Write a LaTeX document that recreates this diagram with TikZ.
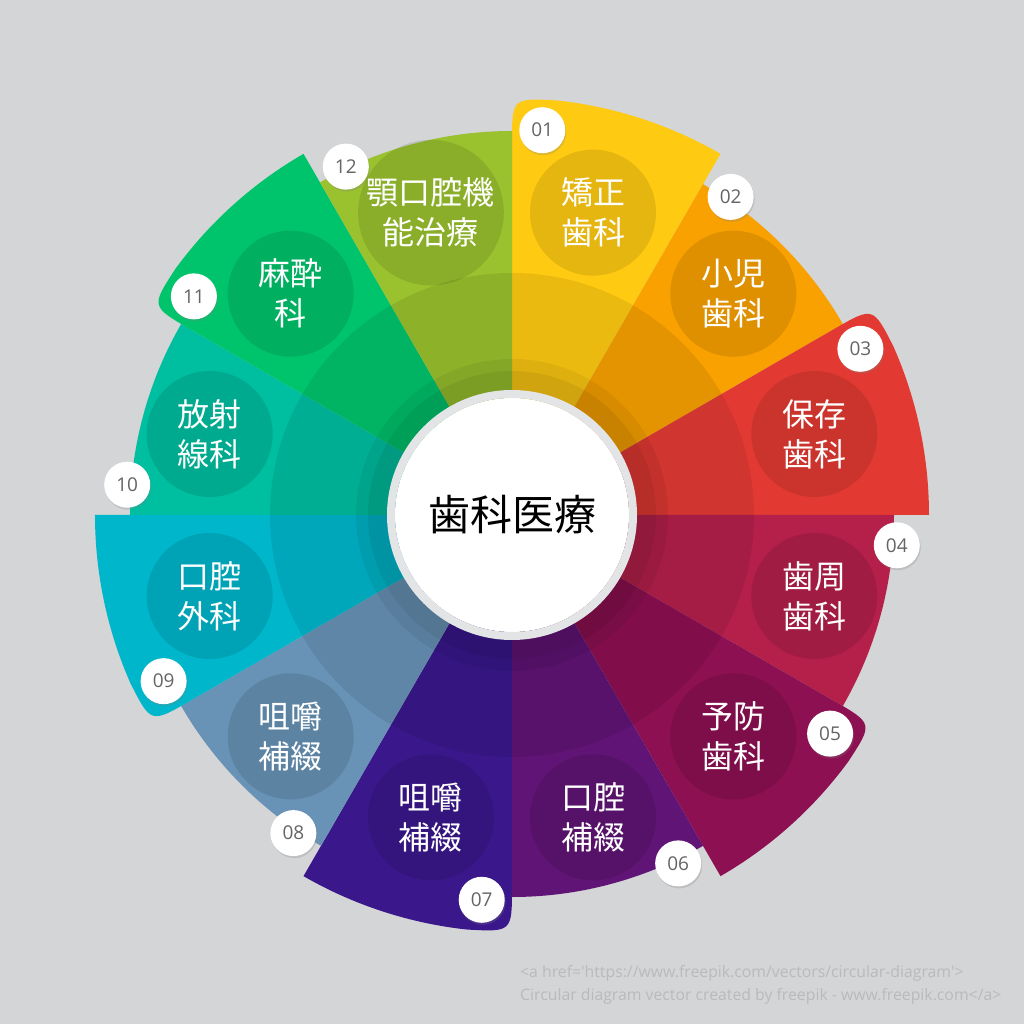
\documentclass[tikz,border=0pt]{standalone}
\usepackage{fontspec}
\usetikzlibrary{positioning}
\usetikzlibrary{shadows}

\newfontfamily\jpfont{Noto Sans CJK JP}
\newfontfamily\numfont{Open Sans}
\newfontfamily\credfont{Open Sans}[Ligatures=TeXOff]

\definecolor{bg}{RGB}{211,213,214}
\definecolor{numgray}{RGB}{100,100,100}
\definecolor{ringgray}{RGB}{226,228,229}
\definecolor{credgray}{RGB}{184,186,187}
\definecolor{c01}{RGB}{255,202,18}
\definecolor{c02}{RGB}{248,161,0}
\definecolor{c03}{RGB}{226,58,51}
\definecolor{c04}{RGB}{180,32,74}
\definecolor{c05}{RGB}{141,16,82}
\definecolor{c06}{RGB}{96,20,117}
\definecolor{c07}{RGB}{58,24,140}
\definecolor{c08}{RGB}{104,146,182}
\definecolor{c09}{RGB}{0,182,202}
\definecolor{c10}{RGB}{0,190,160}
\definecolor{c11}{RGB}{0,196,108}
\definecolor{c12}{RGB}{154,194,46}

\begin{document}
\begin{tikzpicture}[
    x = 1pt, y = 1pt,
    topic/.style = {shape = circle, fill = black, fill opacity = 0.1, text opacity = 1, text = white, minimum size = 126pt, inner sep = 0pt, align = center, font = \jpfont\fontsize{32}{40}\selectfont},
    num/.style = {shape = circle, fill = white, minimum size = 46pt, inner sep = 0pt, text = numgray, font = \numfont\fontsize{19}{19}\selectfont, drop shadow = {opacity = 0.25, shadow xshift = 1pt, shadow yshift = -2pt}},
    hub/.style = {shape = circle, fill = white, minimum size = 234pt, inner sep = 0pt, font = \jpfont\fontsize{42}{42}\selectfont},
    credit/.style = {anchor = north west, align = left, inner sep = 0pt, text = credgray, font = \credfont\fontsize{15.8}{23}\selectfont},
    ]
    \fill[bg] (-512, -509) rectangle (512, 515);
    \useasboundingbox (-512, -509) rectangle (512, 515);

    % sectors, long ones with a rounded leading corner
    \fill[c01] (0, 0) -- (90:372) .. controls (90:417) .. (83.8:417) arc[start angle = 83.8, end angle = 60, radius = 417] -- cycle;
    \fill[c02] (0, 0) -- (60:382) arc[start angle = 60, end angle = 30, radius = 382] -- cycle;
    \fill[c03] (0, 0) -- (30:372) .. controls (30:417) .. (23.8:417) arc[start angle = 23.8, end angle = 0, radius = 417] -- cycle;
    \fill[c04] (0, 0) -- (0:382) arc[start angle = 0, end angle = -30, radius = 382] -- cycle;
    \fill[c05] (0, 0) -- (-30:372) .. controls (-30:417) .. (-36.2:417) arc[start angle = -36.2, end angle = -60, radius = 417] -- cycle;
    \fill[c06] (0, 0) -- (-60:382) arc[start angle = -60, end angle = -90, radius = 382] -- cycle;
    \fill[c07] (0, 0) -- (-90:372) .. controls (-90:417) .. (-96.2:417) arc[start angle = -96.2, end angle = -120, radius = 417] -- cycle;
    \fill[c08] (0, 0) -- (-120:382) arc[start angle = -120, end angle = -150, radius = 382] -- cycle;
    \fill[c09] (0, 0) -- (-150:372) .. controls (-150:417) .. (-156.2:417) arc[start angle = -156.2, end angle = -180, radius = 417] -- cycle;
    \fill[c10] (0, 0) -- (180:382) arc[start angle = 180, end angle = 150, radius = 382] -- cycle;
    \fill[c11] (0, 0) -- (150:372) .. controls (150:417) .. (143.8:417) arc[start angle = 143.8, end angle = 120, radius = 417] -- cycle;
    \fill[c12] (0, 0) -- (120:384) arc[start angle = 120, end angle = 90, radius = 384] -- cycle;

    % shade towards the middle
    \fill[black, opacity = 0.08] (0, 0) circle (242);

    \node[topic] (L1) at (75:313) {矯正\\歯科};
    \node[topic] (L2) at (45:313) {小児\\歯科};
    \node[topic] (L3) at (15:313) {保存\\歯科};
    \node[topic] (L4) at (-15:313) {歯周\\歯科};
    \node[topic] (L5) at (-45:313) {予防\\歯科};
    \node[topic] (L6) at (-75:313) {口腔\\補綴};
    \node[topic] (L7) at (-105:313) {咀嚼\\補綴};
    \node[topic] (L8) at (-135:313) {咀嚼\\補綴};
    \node[topic] (L9) at (-165:313) {口腔\\外科};
    \node[topic] (L10) at (165:313) {放射\\線科};
    \node[topic] (L11) at (135:313) {麻酔\\科};
    \node[topic] (L12) at (105:313) {顎口腔機\\能治療};

    \node[num] (N1) at (85.5:386) {01};
    \node[num] (N2) at (55.5:386) {02};
    \node[num] (N3) at (25.5:386) {03};
    \node[num] (N4) at (-4.5:386) {04};
    \node[num] (N5) at (-34.5:386) {05};
    \node[num] (N6) at (-64.5:386) {06};
    \node[num] (N7) at (-94.5:386) {07};
    \node[num] (N8) at (-124.5:386) {08};
    \node[num] (N9) at (-154.5:386) {09};
    \node[num] (N10) at (175.5:386) {10};
    \node[num] (N11) at (145.5:386) {11};
    \node[num] (N12) at (115.5:386) {12};

    % hub
    \fill[black, opacity = 0.06] (0, 0) circle (156);
    \fill[black, opacity = 0.06] (0, 0) circle (144);
    \node[hub] (hub) at (0, 0) {};
    \draw[ringgray, line width = 8pt] (0, 0) circle (121);
    \node[font = \jpfont\fontsize{42}{42}\selectfont] (title) at (0, 0) {歯科医療};

    \node[credit] (credit) at (8, -450) {<a href=\textquotesingle https://www.freepik.com/vectors/circular-diagram\textquotesingle>\\Circular diagram vector created by freepik - www.freepik.com</a>};
\end{tikzpicture}
\end{document}
